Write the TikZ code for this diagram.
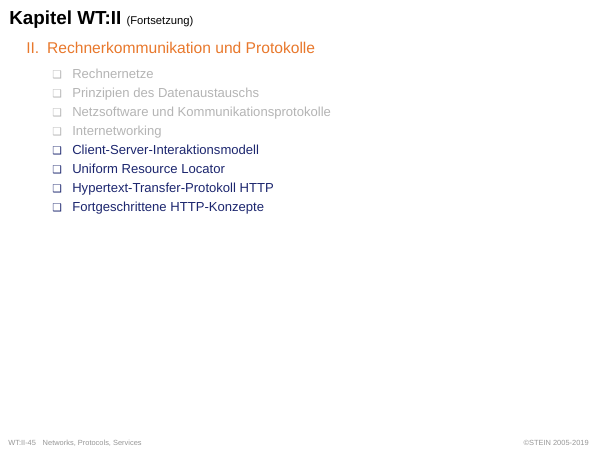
\documentclass[tikz,border=0pt]{standalone}
\usepackage{fontspec}
\setmainfont{Liberation Sans}
\newfontfamily\symfont{DejaVu Sans}
\usetikzlibrary{positioning}
\definecolor{kaporange}{RGB}{232,120,44}
\definecolor{kapblue}{RGB}{28,38,110}
\definecolor{kapgray}{RGB}{180,180,180}
\definecolor{footgray}{RGB}{150,150,150}

\begin{document}
\begin{tikzpicture}[x=0.025cm,y=-0.025cm,
    title/.style={anchor=base west,inner sep=0pt,font=\fontsize{13.4}{15}\selectfont\bfseries},
    section/.style={anchor=base west,inner sep=0pt,text=kaporange,font=\fontsize{11.1}{13}\selectfont},
    item/.style={anchor=base west,inner sep=0pt,font=\fontsize{9.3}{11}\selectfont},
    bullet/.style={anchor=base west,inner sep=0pt,font=\symfont\fontsize{7.6}{8}\selectfont},
    foot/.style={anchor=base,inner sep=0pt,text=footgray,font=\fontsize{5.3}{6}\selectfont}]
  \useasboundingbox (0,0) rectangle (600,450);
  \node[title] (title) at (9,24) {Kapitel WT:II \fontsize{8}{9}\selectfont\mdseries(Fortsetzung)};
  \node[section] (sec) at (26,53) {II.\hspace{0.5em}Rechnerkommunikation und Protokolle};

  \foreach \txt [count=\i] in {Rechnernetze,Prinzipien des Datenaustauschs,
      Netzsoftware und Kommunikationsprotokolle,Internetworking}{
    \node[bullet,text=kapgray] (b\i) at (52,{78.5+19*(\i-1)}) {❑};
    \node[item,text=kapgray] (item\i) at (72,{78+19*(\i-1)}) {\txt};
  }
  \foreach \txt [count=\i from 5] in {Client-Server-Interaktionsmodell,Uniform Resource Locator,
      Hypertext-Transfer-Protokoll HTTP,Fortgeschrittene HTTP-Konzepte}{
    \node[bullet,text=kapblue] (b\i) at (52,{78.5+19*(\i-1)}) {❑};
    \node[item,text=kapblue] (item\i) at (72,{78+19*(\i-1)}) {\txt};
  }

  \node[foot,anchor=base west] (footl) at (8,445) {WT:II-45\hspace{0.9em}Networks, Protocols, Services};
  \node[foot,anchor=base east] (footr) at (589,445) {©STEIN 2005-2019};
\end{tikzpicture}
\end{document}
